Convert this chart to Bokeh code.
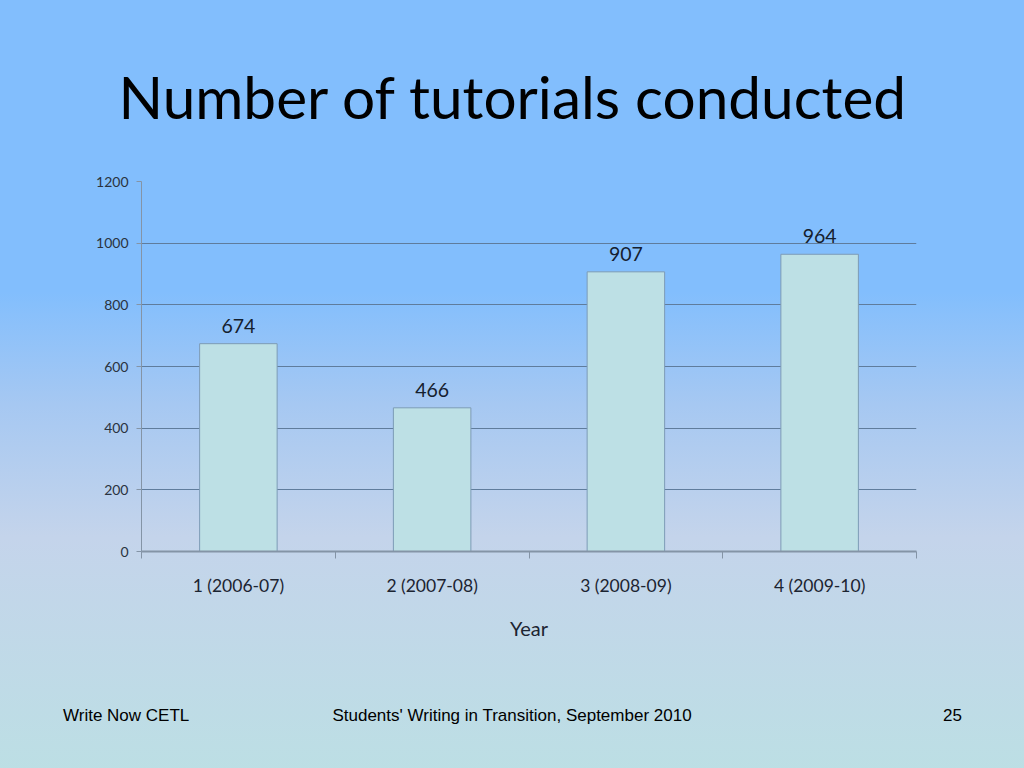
from bokeh.plotting import figure
from bokeh.models import LabelSet, Range1d, ColumnDataSource, FixedTicker, Title, Div
from bokeh.layouts import column
from bokeh.core.properties import value
from bokeh.embed import file_html
from bokeh.resources import INLINE

categories = ["1 (2006-07)", "2 (2007-08)", "3 (2008-09)", "4 (2009-10)"]
tutorials = [674, 466, 907, 964]
y_ticks = [0, 200, 400, 600, 800, 1000, 1200]
title_text = "Number of tutorials conducted"
x_label = "Year"
footer_left = "Write Now CETL"
footer_center = "Students' Writing in Transition, September 2010"
footer_right = "25"

n = len(categories)
centers = [i + 0.5 for i in range(n)]
bounds = [float(i) for i in range(n + 1)]

FONT = "Lato"
W, H_FIG, H_FOOT = 1024, 690, 78

p = figure(width=W, height=H_FIG,
           x_range=Range1d(0, n), y_range=Range1d(0, max(y_ticks)),
           output_backend="svg", toolbar_location=None,
           min_border_left=141, min_border_right=108,
           min_border_top=181, min_border_bottom=139)

p.border_fill_alpha = 0
p.background_fill_alpha = 0
p.outline_line_color = None

p.add_layout(Title(text=title_text, align="left", offset=-23, standoff=102,
                   text_font=FONT, text_font_size="58.5px", text_font_style="normal",
                   text_color="#000000"), "above")

src = ColumnDataSource(dict(x=centers, top=tutorials, lab=[str(v) for v in tutorials]))
p.vbar(x="x", top="top", width=0.4, source=src,
       fill_color="#bde0e5", line_color="#7d9bb6", line_width=1)

p.add_layout(LabelSet(x="x", y="top", text="lab", source=src, y_offset=11,
                      text_align="center", text_baseline="alphabetic",
                      text_font=value(FONT), text_font_size="19.5px",
                      text_color="#15202e"))

# x axis
xa = p.xaxis[0]
xa.ticker = FixedTicker(ticks=centers, minor_ticks=bounds)
xa.major_label_overrides = {c: lab for c, lab in zip(centers, categories)}
xa.major_tick_line_color = None
xa.major_tick_out = 0
xa.major_tick_in = 0
xa.minor_tick_out = 7
xa.minor_tick_in = 0
xa.minor_tick_line_color = "#8494a6"
xa.axis_line_color = "#8494a6"
xa.axis_line_width = 2
xa.major_label_standoff = 16
xa.major_label_text_font = FONT
xa.major_label_text_font_size = "17.5px"
xa.major_label_text_color = "#1c2431"
xa.axis_label = x_label
xa.axis_label_text_font = FONT
xa.axis_label_text_font_size = "20px"
xa.axis_label_text_font_style = "normal"
xa.axis_label_text_color = "#1c2431"
xa.axis_label_standoff = 17

# y axis
ya = p.yaxis[0]
ya.ticker = FixedTicker(ticks=y_ticks)
ya.major_tick_out = 5
ya.major_tick_in = 0
ya.minor_tick_line_color = None
ya.major_tick_line_color = "#8494a6"
ya.axis_line_color = "#8494a6"
ya.major_label_standoff = 8
ya.major_label_text_font = FONT
ya.major_label_text_font_size = "14px"
ya.major_label_text_color = "#2a3340"

p.xgrid.grid_line_color = None
p.ygrid.ticker = FixedTicker(ticks=y_ticks)
p.ygrid.grid_line_color = "#5f7c9c"
p.ygrid.grid_line_width = 1

span = "position:absolute;top:9px;white-space:nowrap;"
footer = Div(width=W, height=H_FOOT, text=(
    '<div style="position:relative;width:%dpx;height:%dpx;'
    'font-family:\'Liberation Sans\',Arial,sans-serif;font-size:17px;color:#000;">'
    '<span style="%sleft:58px;">%s</span>'
    '<span style="%sleft:0;width:1014px;text-align:center;">%s</span>'
    '<span style="%sright:67px;">%s</span>'
    '</div>') % (W, H_FOOT, span, footer_left, span, footer_center, span, footer_right))

layout = column(p, footer, spacing=0, styles={
    "background": "linear-gradient(to bottom, #82befd 0%, #82befd 37.5%, #a6c8f2 52%, "
                  "#c4d4eb 69%, #bcdfe4 100%)"})

open("out.html", "w").write(file_html(layout, INLINE))
